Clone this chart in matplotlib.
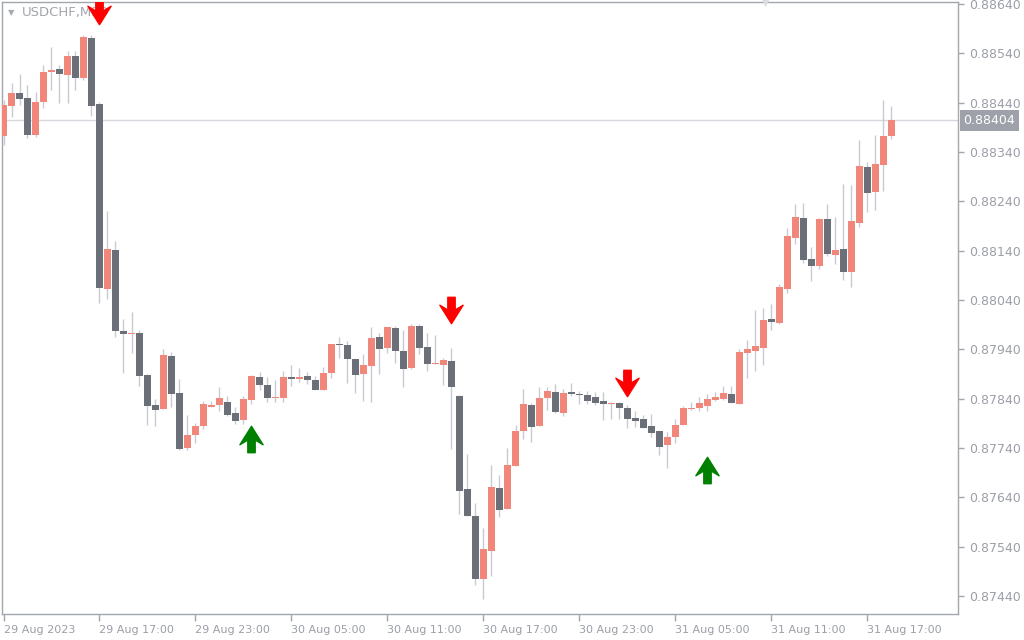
import numpy as np
import matplotlib
matplotlib.use("Agg")
import matplotlib.pyplot as plt
from matplotlib.path import Path

# USDCHF M30 candles (prices)
opens = [0.88372, 0.88433, 0.88460, 0.88450, 0.88374, 0.88441, 0.88502, 0.88508, 0.88496, 0.88535,
         0.88490, 0.88571, 0.88437, 0.88062, 0.88141, 0.87977, 0.87971, 0.87973, 0.87888, 0.87827,
         0.87819, 0.87927, 0.87852, 0.87740, 0.87766, 0.87785, 0.87823, 0.87827, 0.87833, 0.87811,
         0.87797, 0.87837, 0.87884, 0.87868, 0.87841, 0.87841, 0.87884, 0.87880, 0.87886, 0.87878,
         0.87858, 0.87892, 0.87951, 0.87949, 0.87920, 0.87890, 0.87906, 0.87965, 0.87943, 0.87983,
         0.87937, 0.87902, 0.87987, 0.87945, 0.87910, 0.87908, 0.87916, 0.87845, 0.87657, 0.87602,
         0.87474, 0.87531, 0.87659, 0.87616, 0.87704, 0.87775, 0.87827, 0.87785, 0.87841, 0.87854,
         0.87811, 0.87854, 0.87850, 0.87847, 0.87843, 0.87835, 0.87829, 0.87831, 0.87821, 0.87801,
         0.87799, 0.87785, 0.87775, 0.87746, 0.87762, 0.87787, 0.87819, 0.87821, 0.87825, 0.87837,
         0.87839, 0.87850, 0.87829, 0.87933, 0.87937, 0.87943, 0.88002, 0.87993, 0.88062, 0.88166,
         0.88206, 0.88123, 0.88109, 0.88204, 0.88131, 0.88143, 0.88097, 0.88196, 0.88310, 0.88259,
         0.88314, 0.88372]
highs = [0.88445, 0.88480, 0.88498, 0.88476, 0.88462, 0.88516, 0.88553, 0.88516, 0.88545, 0.88545,
         0.88577, 0.88577, 0.88441, 0.88220, 0.88160, 0.88002, 0.88016, 0.87979, 0.87890, 0.87839,
         0.87941, 0.87935, 0.87880, 0.87807, 0.87791, 0.87835, 0.87835, 0.87864, 0.87845, 0.87823,
         0.87845, 0.87888, 0.87894, 0.87884, 0.87878, 0.87896, 0.87908, 0.87902, 0.87894, 0.87886,
         0.87904, 0.87951, 0.87965, 0.87957, 0.87920, 0.87931, 0.87985, 0.87973, 0.87985, 0.87987,
         0.87979, 0.87991, 0.87991, 0.87973, 0.87969, 0.87922, 0.87943, 0.87847, 0.87728, 0.87628,
         0.87578, 0.87706, 0.87685, 0.87740, 0.87787, 0.87860, 0.87831, 0.87864, 0.87864, 0.87870,
         0.87860, 0.87872, 0.87856, 0.87856, 0.87854, 0.87854, 0.87833, 0.87833, 0.87827, 0.87815,
         0.87807, 0.87809, 0.87775, 0.87772, 0.87799, 0.87825, 0.87833, 0.87843, 0.87850, 0.87854,
         0.87866, 0.87866, 0.87941, 0.87959, 0.88020, 0.88024, 0.88032, 0.88072, 0.88186, 0.88235,
         0.88237, 0.88147, 0.88206, 0.88235, 0.88208, 0.88275, 0.88273, 0.88364, 0.88320, 0.88374,
         0.88445, 0.88433]
lows = [0.88354, 0.88411, 0.88435, 0.88368, 0.88370, 0.88429, 0.88466, 0.88439, 0.88439, 0.88466,
        0.88486, 0.88413, 0.88034, 0.88042, 0.87965, 0.87892, 0.87933, 0.87866, 0.87787, 0.87785,
        0.87819, 0.87823, 0.87736, 0.87736, 0.87750, 0.87779, 0.87823, 0.87815, 0.87805, 0.87789,
        0.87789, 0.87829, 0.87858, 0.87833, 0.87833, 0.87833, 0.87866, 0.87874, 0.87870, 0.87858,
        0.87858, 0.87882, 0.87922, 0.87872, 0.87852, 0.87835, 0.87833, 0.87890, 0.87933, 0.87912,
        0.87864, 0.87900, 0.87931, 0.87896, 0.87910, 0.87868, 0.87738, 0.87606, 0.87602, 0.87462,
        0.87434, 0.87481, 0.87600, 0.87616, 0.87704, 0.87758, 0.87752, 0.87785, 0.87817, 0.87811,
        0.87805, 0.87845, 0.87829, 0.87829, 0.87827, 0.87797, 0.87799, 0.87799, 0.87781, 0.87783,
        0.87781, 0.87762, 0.87726, 0.87700, 0.87750, 0.87787, 0.87817, 0.87815, 0.87815, 0.87835,
        0.87837, 0.87831, 0.87829, 0.87882, 0.87896, 0.87908, 0.87979, 0.87991, 0.88054, 0.88154,
        0.88115, 0.88079, 0.88103, 0.88129, 0.88113, 0.88081, 0.88066, 0.88188, 0.88218, 0.88222,
        0.88261, 0.88366]
closes = [0.88435, 0.88460, 0.88447, 0.88374, 0.88441, 0.88502, 0.88506, 0.88498, 0.88535, 0.88490,
          0.88573, 0.88433, 0.88064, 0.88143, 0.87977, 0.87971, 0.87973, 0.87886, 0.87825, 0.87817,
          0.87929, 0.87850, 0.87738, 0.87766, 0.87785, 0.87829, 0.87827, 0.87841, 0.87807, 0.87795,
          0.87839, 0.87886, 0.87868, 0.87841, 0.87843, 0.87884, 0.87880, 0.87884, 0.87878, 0.87858,
          0.87892, 0.87951, 0.87949, 0.87920, 0.87888, 0.87908, 0.87963, 0.87941, 0.87985, 0.87937,
          0.87900, 0.87987, 0.87943, 0.87910, 0.87912, 0.87918, 0.87864, 0.87653, 0.87602, 0.87474,
          0.87535, 0.87661, 0.87614, 0.87706, 0.87775, 0.87829, 0.87783, 0.87841, 0.87856, 0.87813,
          0.87852, 0.87850, 0.87847, 0.87835, 0.87831, 0.87829, 0.87831, 0.87821, 0.87799, 0.87795,
          0.87781, 0.87770, 0.87742, 0.87762, 0.87787, 0.87821, 0.87821, 0.87831, 0.87839, 0.87843,
          0.87852, 0.87831, 0.87935, 0.87941, 0.87947, 0.87999, 0.87995, 0.88066, 0.88170, 0.88208,
          0.88121, 0.88109, 0.88204, 0.88133, 0.88141, 0.88097, 0.88200, 0.88312, 0.88257, 0.88316,
          0.88372, 0.88404]

# signal arrows: (bar index, price)
sell_idx = [12, 56, 78]
sell_px = [0.88626, 0.88020, 0.87872]
buy_idx = [31, 88]
buy_px = [0.87758, 0.87695]

last_price = 0.88404
ytick_vals = [0.87440, 0.87540, 0.87640, 0.87740, 0.87840, 0.87940, 0.88040,
              0.88140, 0.88240, 0.88340, 0.88440, 0.88540, 0.88640]
xtick_idx = [0, 12, 24, 36, 48, 60, 72, 84, 96, 108]
xtick_labels = ["29 Aug 2023", "29 Aug 17:00", "29 Aug 23:00", "30 Aug 05:00", "30 Aug 11:00",
                "30 Aug 17:00", "30 Aug 23:00", "31 Aug 05:00", "31 Aug 11:00", "31 Aug 17:00"]

BULL = "#f0877a"
BEAR = "#6b6f78"
WICK = "#c9cbd3"
AXC = "#a3a6ad"
TXT = "#9c9fa8"

o = np.array(opens); h = np.array(highs); l = np.array(lows); c = np.array(closes)
x = np.arange(len(o))

fig = plt.figure(figsize=(10.24, 6.4), dpi=100)
fig.patch.set_facecolor("white")
ax = fig.add_axes([2 / 1024, 26 / 640, 956 / 1024, 612 / 640])
ax.set_facecolor("white")

ax.axhline(last_price, color="#d6d8de", lw=1, zorder=1)

ax.vlines(x, l, h, color=WICK, lw=1, zorder=2)
up = c >= o
body_lo = np.minimum(o, c)
body_h = np.maximum(np.abs(c - o), 0.000018)
ax.bar(x[up], body_h[up], bottom=body_lo[up], width=0.86, color=BULL, lw=0, zorder=3)
ax.bar(x[~up], body_h[~up], bottom=body_lo[~up], width=0.86, color=BEAR, lw=0, zorder=3)

# arrow markers (thick shaft + chevron head)
down_arrow = Path([(-0.14, 0.5), (0.14, 0.5), (0.14, 0.02), (0.44, 0.2),
                   (0.0, -0.5), (-0.44, 0.2), (-0.14, 0.02), (-0.14, 0.5)],
                  [Path.MOVETO] + [Path.LINETO] * 6 + [Path.CLOSEPOLY])
up_arrow = Path(down_arrow.vertices * np.array([1, -1]), down_arrow.codes)
ax.plot(sell_idx, sell_px, ls="none", marker=down_arrow, ms=19, color="#ff0000", zorder=5)
ax.plot(buy_idx, buy_px, ls="none", marker=up_arrow, ms=19, color="#008000", zorder=5)

ax.set_xlim(-0.1875, 119.3125)
ax.set_ylim(0.874035, 0.88644)

for s in ax.spines.values():
    s.set_color(AXC)
    s.set_linewidth(1)

ax.yaxis.tick_right()
ax.set_yticks(ytick_vals)
ax.set_yticklabels([f"{v:.5f}" for v in ytick_vals])
ax.tick_params(axis="y", direction="out", length=4, width=1, color=AXC,
               labelcolor=TXT, labelsize=9, pad=4)
ax.set_xticks(xtick_idx)
ax.set_xticklabels(xtick_labels, ha="left")
ax.tick_params(axis="x", direction="out", length=5, width=1, color=AXC,
               labelcolor=TXT, labelsize=8, pad=3)
for lab in ax.get_xticklabels():
    lab.set_horizontalalignment("left")

# current price tag
ax.annotate(f"{last_price:.5f}", xy=(1.0, last_price), xycoords=("axes fraction", "data"),
            xytext=(4, 0), textcoords="offset points", va="center", ha="left",
            fontsize=9, color="white",
            bbox=dict(boxstyle="square,pad=0.3", fc="#9ea1a9", ec="none"))

ax.text(0.006, 0.983, "\u25bc", transform=ax.transAxes, fontsize=6, color="#a7aab1",
        va="center", ha="left")
ax.text(0.0205, 0.983, "USDCHF,M30", transform=ax.transAxes, fontsize=9.5, color="#a2a5ad",
        va="center", ha="left")
fig.text(766 / 1024, 1 - 3 / 640, "\u25bc", fontsize=7, color="#dcdde2", ha="center", va="center")

fig.savefig("out.png", dpi=100, facecolor="white")
